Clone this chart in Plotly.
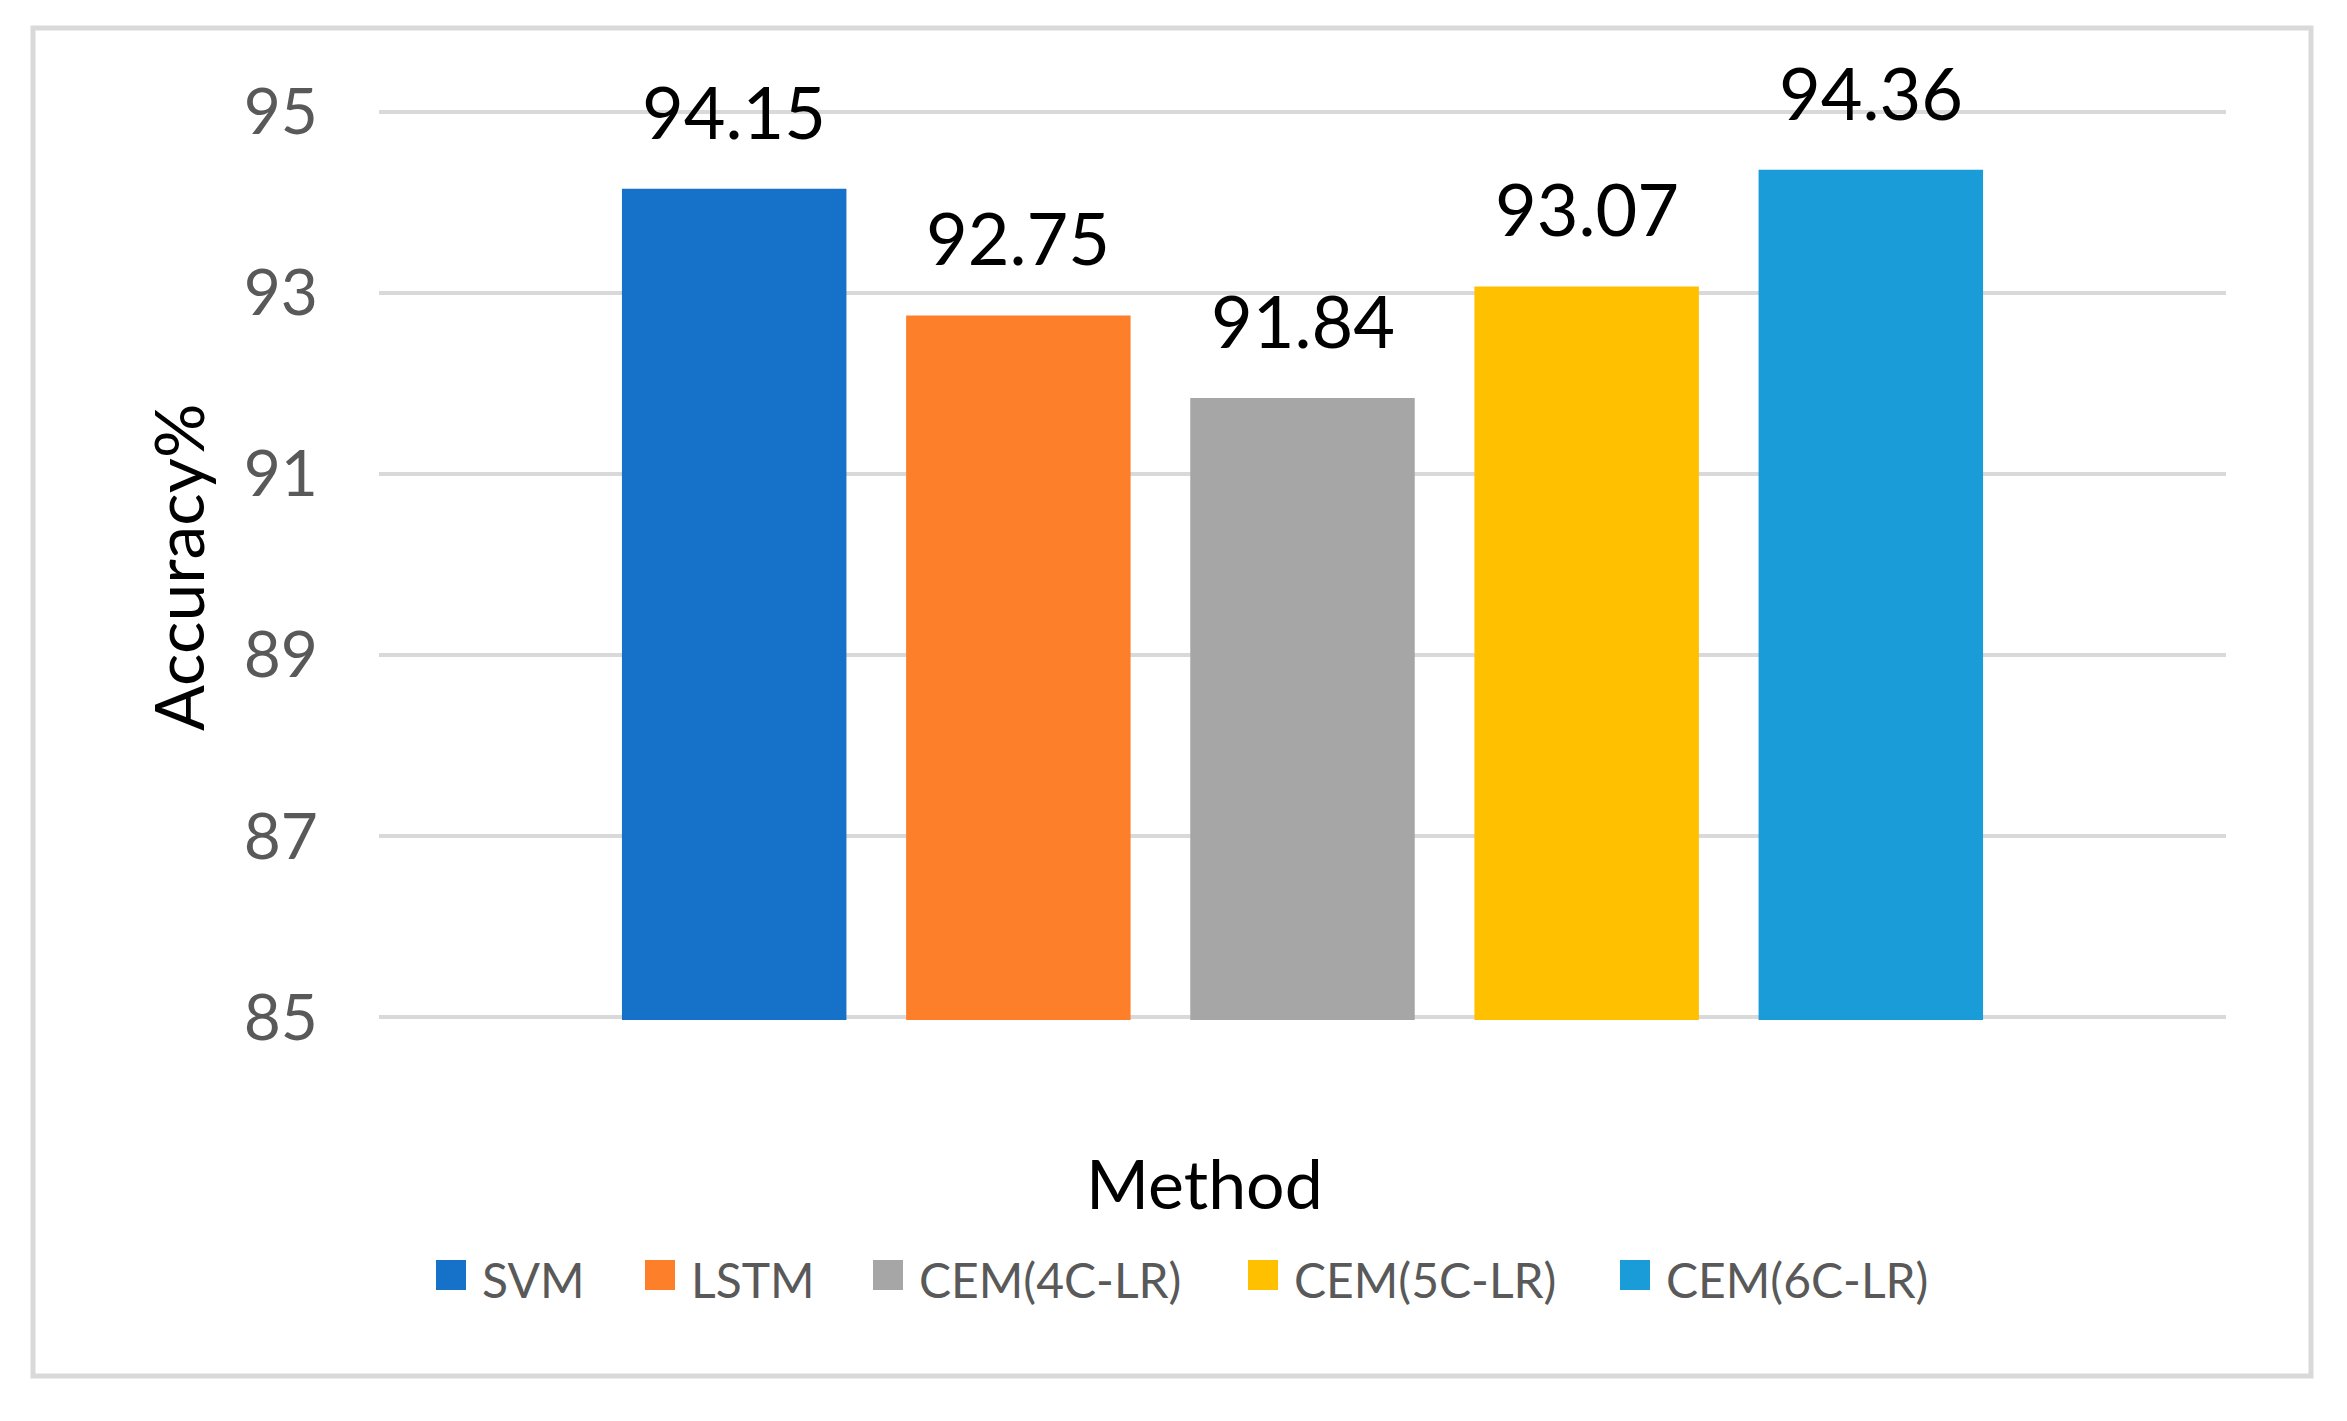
import plotly.graph_objects as go

methods = ["SVM", "LSTM", "CEM(4C-LR)", "CEM(5C-LR)", "CEM(6C-LR)"]
accuracy = [94.15, 92.75, 91.84, 93.07, 94.36]
colors = ["#1672C8", "#FE7F2A", "#A6A6A6", "#FFC000", "#199CD8"]
y_ticks = [85, 87, 89, 91, 93, 95]

FONT = "Lato"

# Layout geometry (screen pixels; page body has an 8px margin)
OFF = 8
PL, PR = 379, 2226          # plot area left/right
PT, PB = 109, 1020          # plot area top/bottom
W, H = 2347 - 2 * OFF, 1421 - 2 * OFF


def px(p):
    return (p - PL) / (PR - PL)


def py(p):
    return (PB - p) / (PB - PT)


legend_sq_x = [436, 645, 873, 1248, 1620]
legend_y = 1275

fig = go.Figure()
for i, (m, v, c) in enumerate(zip(methods, accuracy, colors)):
    fig.add_trace(go.Bar(
        x=[i], y=[v], name=m, width=0.79, base=None,
        marker=dict(color=c, line=dict(width=0)),
        showlegend=False,
    ))
    fig.add_annotation(
        x=i, y=v, text=f"{v:.2f}", showarrow=False,
        yanchor="middle", yshift=78,
        font=dict(family=FONT, size=72, color="#000000"),
    )
    # legend entry
    fig.add_shape(
        type="rect", xref="paper", yref="paper",
        x0=px(legend_sq_x[i]), x1=px(legend_sq_x[i] + 30),
        y0=py(legend_y + 15), y1=py(legend_y - 15),
        fillcolor=c, line=dict(width=0),
    )
    fig.add_annotation(
        x=px(legend_sq_x[i] + 44), y=py(legend_y + 4), xref="paper", yref="paper",
        text=m, showarrow=False, xanchor="left", yanchor="middle",
        font=dict(family=FONT, size=48, color="#595959"),
    )

fig.add_annotation(
    x=px(177), y=py(568), xref="paper", yref="paper", text="Accuracy%",
    textangle=-90, showarrow=False, xanchor="center", yanchor="middle",
    font=dict(family=FONT, size=68, color="#000000"),
)
fig.add_annotation(
    x=px(1204), y=py(1182), xref="paper", yref="paper", text="Method",
    showarrow=False, xanchor="center", yanchor="middle",
    font=dict(family=FONT, size=68, color="#000000"),
)

fig.add_shape(
    type="rect", xref="paper", yref="paper",
    x0=px(33), x1=px(2311), y0=py(1376), y1=py(28),
    line=dict(color="#D9D9D9", width=5), fillcolor="rgba(0,0,0,0)",
)

fig.update_layout(
    width=W, height=H,
    paper_bgcolor="white", plot_bgcolor="white",
    margin=dict(l=PL - OFF, r=(OFF + W) - PR, t=PT - OFF, b=(OFF + H) - PB),
    barmode="overlay",
    showlegend=False,
    xaxis=dict(range=[-1.25, 5.25], showticklabels=False, showgrid=False,
               zeroline=False, showline=False, fixedrange=True),
    yaxis=dict(range=[84.97, 95.03], tickvals=y_ticks, ticktext=[str(t) for t in y_ticks],
               showgrid=True, gridcolor="#D9D9D9", gridwidth=4,
               zeroline=False, showline=False, ticklabelstandoff=60,
               tickfont=dict(family=FONT, size=64, color="#595959")),
)

fig.write_html("out.html")
